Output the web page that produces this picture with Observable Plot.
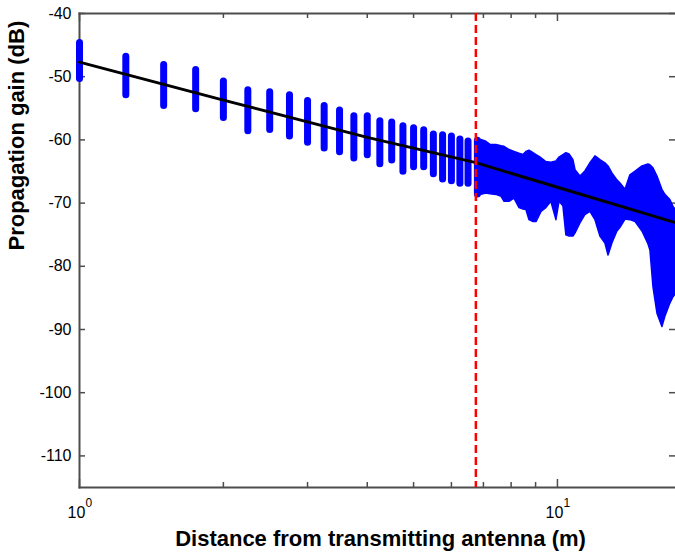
<!DOCTYPE html>
<html><head><meta charset="utf-8">
<script src="https://cdn.jsdelivr.net/npm/d3@7"></script>
<script src="https://cdn.jsdelivr.net/npm/@observablehq/plot@0.6"></script>
<style>body{margin:0;background:#fff} svg{display:block}</style>
</head><body><div id="chart"></div>
<script>
// Discrete measurement positions (m) and gain spread (dB)
const barDist = [1,1.25,1.5,1.75,2,2.25,2.5,2.75,3,3.25,3.5,3.75,4,4.25,4.5,4.75,5,5.25,5.5,5.75,6,6.25,6.5,6.8];
const barTop = [-44.1,-46.3,-47.6,-48.4,-50.2,-51.6,-51.9,-52.4,-53.3,-54.1,-54.8,-55.7,-55.7,-56.5,-56.7,-57.3,-57.6,-57.9,-58.6,-58.7,-58.9,-59.4,-59.7,-59.6];
const barBottom = [-50.9,-53.5,-55.2,-55.7,-57.1,-59.2,-59.0,-60.0,-61.0,-61.9,-62.5,-63.5,-63.0,-64.4,-63.8,-65.6,-64.9,-64.9,-66.0,-66.8,-67.1,-67.5,-67.5,-69.2];
// Dense region envelope
const denseDist = [6.93,7.10,7.24,7.45,7.64,7.75,7.94,8.13,8.33,8.49,8.61,8.74,8.91,9.04,9.26,9.48,9.71,9.95,10.10,10.29,10.44,10.60,10.80,10.91,11.17,11.44,11.72,12.01,12.30,12.60,12.79,13.03,13.35,13.55,13.88,14.21,14.57,15.06,15.50,15.65,15.88,16.19,16.58,16.82,17.23,17.49,17.66];
const denseTop = [-60.0,-60.3,-60.8,-60.8,-61.0,-61.1,-61.6,-61.9,-62.2,-62.4,-61.9,-61.7,-62.1,-62.4,-62.9,-63.5,-63.6,-63.4,-62.8,-62.4,-62.1,-62.3,-63.2,-64.8,-65.8,-65.0,-63.7,-62.6,-63.2,-63.7,-64.2,-65.3,-66.4,-66.9,-67.9,-65.6,-65.0,-64.2,-63.9,-64.0,-64.5,-65.8,-67.9,-68.7,-69.5,-70.6,-71.0];
const denseBottom = [-68.7,-68.5,-68.6,-68.7,-69.0,-69.8,-69.8,-69.3,-70.8,-71.0,-71.1,-72.7,-73.0,-73.0,-71.4,-70.8,-69.8,-72.7,-69.8,-70.5,-75.1,-75.3,-75.3,-74.8,-73.2,-71.9,-71.4,-72.7,-75.3,-76.4,-78.3,-76.4,-74.5,-73.9,-72.6,-72.7,-73.0,-74.5,-76.5,-77.5,-83.3,-87.5,-89.6,-88.0,-85.9,-84.9,-84.5];
// Fitted path-loss line
const lineDist = [1, 2, 4, 6.75, 10, 17.66];
const lineGain = [-47.7, -53.7, -59.6, -63.6, -67.5, -73.1];
// Breakpoint marker
const dashDist = [6.75];
// Ticks
const yTicks = [-110,-100,-90,-80,-70,-60,-50,-40];
const xMajor = [1, 10];
const xMinor = [2,3,4,5,6,7,8,9];
const xLabel = "Distance from transmitting antenna (m)";
const yLabel = "Propagation gain (dB)";

const bars = barDist.map((d,i)=>({d, top: barTop[i], bottom: barBottom[i]}));
const dense = denseDist.map((d,i)=>({d, top: denseTop[i], bottom: denseBottom[i]}));
const fit = lineDist.map((d,i)=>({d, g: lineGain[i]}));

const W = 675, H = 554, mL = 79, mT = 13, mR = 0, mB = 67;
const pW = W - mL - mR, pH = H - mT - mB;
const axisColor = "#4d4d4d";
const font = "'Liberation Sans', Arial, Helvetica, sans-serif";

const chart = Plot.plot({
  width: W, height: H,
  marginLeft: mL, marginTop: mT, marginRight: mR, marginBottom: mB,
  style: {fontFamily: font, fontSize: "16px", background: "#fff", color: "black"},
  x: {type: "log", domain: [1, 17.66], axis: null},
  y: {domain: [-115, -40]},
  marks: [
    Plot.frame({anchor: "left", stroke: axisColor, strokeWidth: 2}),
    Plot.frame({anchor: "top", stroke: axisColor, strokeWidth: 2}),
    Plot.frame({anchor: "bottom", stroke: axisColor, strokeWidth: 2}),
    Plot.tickY(yTicks, {y: d => d, stroke: axisColor, strokeWidth: 1.5, insetRight: pW - 6}),
    Plot.tickY(yTicks, {y: d => d, stroke: axisColor, strokeWidth: 1.5, insetLeft: pW - 6}),
    Plot.tickX(xMajor, {x: d => d, stroke: axisColor, strokeWidth: 1.5, insetTop: pH - 8}),
    Plot.tickX(xMinor, {x: d => d, stroke: axisColor, strokeWidth: 1.5, insetTop: pH - 5}),
    Plot.tickX(xMajor, {x: d => d, stroke: axisColor, strokeWidth: 1.5, insetBottom: pH - 8}),
    Plot.tickX(xMinor, {x: d => d, stroke: axisColor, strokeWidth: 1.5, insetBottom: pH - 5}),
    Plot.axisY(yTicks, {tickSize: 0, tickPadding: 8, tickFormat: d => String(d), fontSize: 16, fill: "black"}),
    Plot.text(xMajor, {x: d => d, frameAnchor: "bottom", text: d => "10", dx: -3, dy: 30, lineAnchor: "bottom", fontSize: 16, fill: "black"}),
    Plot.text(xMajor, {x: d => d, frameAnchor: "bottom", text: d => String(Math.round(Math.log10(d))), dx: 6, dy: 19, textAnchor: "start", lineAnchor: "bottom", fontSize: 12, fill: "black"}),
    Plot.text([xLabel], {frameAnchor: "bottom", text: d => d, dx: 3, dy: 58, lineAnchor: "bottom", fontSize: 22, fontWeight: "bold", fill: "black"}),
    Plot.text([yLabel], {frameAnchor: "left", text: d => d, dx: -56, rotate: -90, lineAnchor: "bottom", fontSize: 22, fontWeight: "bold", fill: "black"}),
    Plot.ruleX(bars, {x: "d", y1: "top", y2: "bottom", stroke: "#0000ff", strokeWidth: 7, strokeLinecap: "round", insetTop: 3.5, insetBottom: 3.5}),
    Plot.areaY(dense, {x: "d", y1: "top", y2: "bottom", fill: "#0000ff", stroke: "#0000ff", strokeWidth: 1.5}),
    Plot.line(fit, {x: "d", y: "g", stroke: "black", strokeWidth: 3}),
    Plot.ruleX(dashDist, {x: d => d, stroke: "#ff0000", strokeWidth: 2.5, strokeDasharray: "8,4"})
  ]
});
document.getElementById("chart").appendChild(chart);
</script>
</body></html>
